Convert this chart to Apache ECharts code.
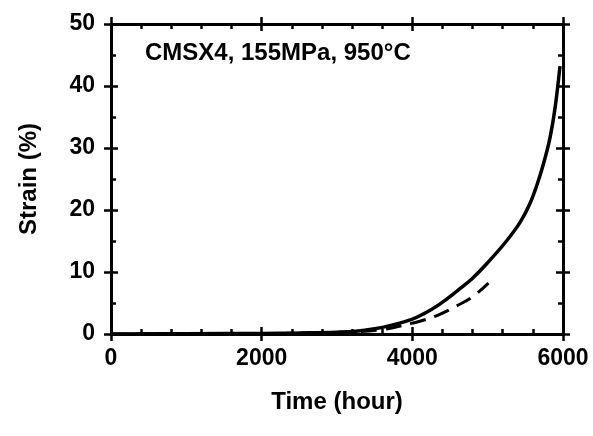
<!DOCTYPE html>
<html>
<head>
    <meta charset="utf-8">
    <title>Strain vs Time</title>
    <script src="https://cdn.jsdelivr.net/npm/echarts@6/dist/echarts.min.js"></script>
</head>
<body style="margin:0;background:#fff;">
<div id="main" style="width:593px;height:436px;"></div>
<script type="text/javascript">
    // measured creep curve (solid)
    var timeMeasured = [0, 1000, 2000, 2500, 3000, 3250, 3500, 3700, 4000, 4150, 4350, 4600, 4800, 5000, 5250, 5430, 5560, 5680, 5760, 5830, 5895, 5960];
    var strainMeasured = [0, 0.05, 0.1, 0.18, 0.3, 0.45, 0.85, 1.35, 2.4, 3.25, 4.7, 7.0, 9.0, 11.5, 15.0, 18.0, 21.0, 25.0, 28.3, 31.8, 36.5, 43.2];
    // model curve (dashed)
    var timeModel = [0, 2000, 3000, 3600, 4000, 4100, 4350, 4600, 4800, 5010];
    var strainModel = [0, 0.08, 0.25, 0.7, 1.75, 2.05, 3.1, 4.6, 6.0, 8.2];

    var note = 'CMSX4, 155MPa, 950°C';

    function pairs(xs, ys) {
        var out = [];
        for (var i = 0; i < xs.length; i++) out.push([xs[i], ys[i]]);
        return out;
    }

    var font = '"Liberation Sans", Arial, sans-serif';
    var lineStyle = {color: '#000', width: 3};
    var tickStyle = {color: '#000', width: 2.5};

    // two axes per side: one with outward ticks, one with inward ticks + minor ticks
    function xAxis(pos, inside, labels) {
        return {
            type: 'value', position: pos, min: 0, max: 6000, interval: 2000,
            name: labels ? 'Time (hour)' : '',
            nameLocation: 'middle', nameGap: 56,
            nameTextStyle: {fontFamily: font, fontWeight: 'bold', fontSize: 24, color: '#000'},
            axisLine: {show: true, onZero: false, lineStyle: lineStyle},
            axisTick: {show: true, inside: inside, length: 7, lineStyle: tickStyle},
            minorTick: {show: inside, splitNumber: 5, length: 5, lineStyle: tickStyle},
            axisLabel: {
                show: labels, margin: 13, fontFamily: font, fontWeight: 'bold', fontSize: 23, color: '#000',
                formatter: function (v) { return String(v); }
            },
            splitLine: {show: false}
        };
    }

    function yAxis(pos, inside, labels) {
        return {
            type: 'value', position: pos, min: 0, max: 50, interval: 10,
            name: labels ? 'Strain (%)' : '',
            nameLocation: 'middle', nameGap: 70,
            nameTextStyle: {fontFamily: font, fontWeight: 'bold', fontSize: 24, color: '#000'},
            axisLine: {show: true, onZero: false, lineStyle: lineStyle},
            axisTick: {show: true, inside: inside, length: 7, lineStyle: tickStyle},
            minorTick: {show: inside, splitNumber: 2, length: 5, lineStyle: tickStyle},
            axisLabel: {show: labels, margin: 16, fontFamily: font, fontWeight: 'bold', fontSize: 23, color: '#000'},
            splitLine: {show: false}
        };
    }

    var myChart = echarts.init(document.getElementById('main'));

    var option = {
        backgroundColor: '#fff',
        animation: false,
        title: {
            text: note,
            left: 140,
            top: 36,
            textStyle: {fontFamily: font, fontWeight: 'bold', fontSize: 24, color: '#000'}
        },
        grid: {left: 111, right: 30, top: 24, bottom: 102},
        xAxis: [
            xAxis('bottom', false, true),
            xAxis('bottom', true, false),
            xAxis('top', false, false),
            xAxis('top', true, false)
        ],
        yAxis: [
            yAxis('left', false, true),
            yAxis('left', true, false),
            yAxis('right', false, false),
            yAxis('right', true, false)
        ],
        series: [{
            name: 'measured',
            type: 'line',
            data: pairs(timeMeasured, strainMeasured),
            smooth: 0.4,
            showSymbol: false,
            lineStyle: {color: '#000', width: 3.5},
            z: 3
        }, {
            name: 'model',
            type: 'line',
            data: pairs(timeModel, strainModel),
            smooth: 0.4,
            showSymbol: false,
            lineStyle: {color: '#000', width: 3, type: [16, 9]},
            z: 2
        }]
    };

    myChart.setOption(option);
</script>
</body>
</html>
